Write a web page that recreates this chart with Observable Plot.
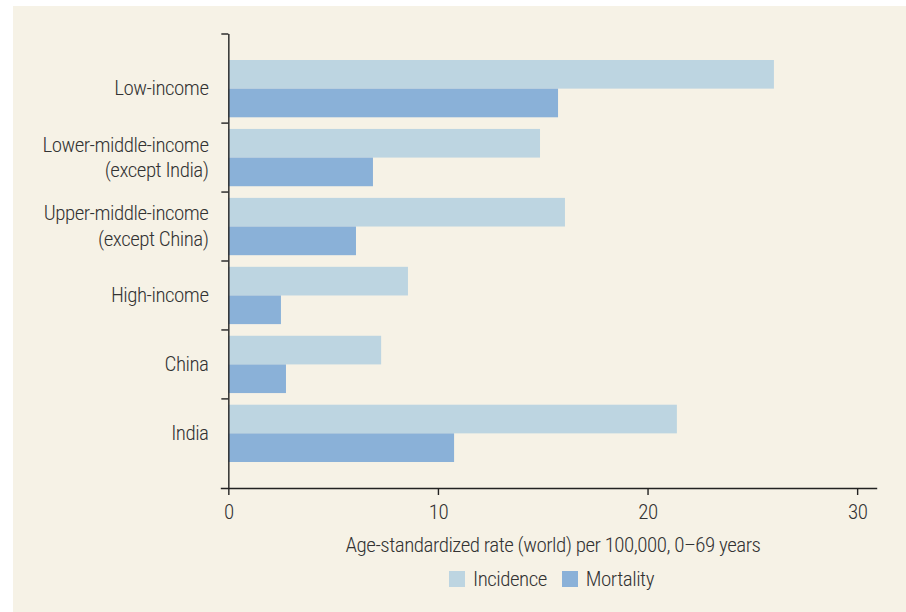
<!DOCTYPE html>
<html>
<head>
<meta charset="utf-8">
<script src="https://cdn.jsdelivr.net/npm/d3@7"></script>
<script src="https://cdn.jsdelivr.net/npm/@observablehq/plot@0.6"></script>
<style>
  html, body { margin: 0; padding: 0; background: #ffffff; }
  body { width: 906px; height: 612px; overflow: hidden; }
  #panel {
    position: absolute; left: 13px; top: 6px; width: 893px; height: 606px;
    background: #f6f2e6;
    font-family: 'Liberation Sans Narrow', 'Roboto Condensed', 'DejaVu Sans Condensed', 'Arial Narrow', sans-serif;
    font-weight: 300;
    letter-spacing: -0.5px;
    color: #333333;
  }
  #chart svg { display: block; }
  #chart svg text { letter-spacing: -0.5px; font-weight: 300; }
  #legend {
    position: absolute; left: 436px; top: 565px; display: flex; align-items: center;
    font-size: 21px; height: 16px; color: #333333;
  }
  #legend .sw { width: 16px; height: 16px; display: inline-block; margin-right: 8px; }
  #legend .item { display: flex; align-items: center; margin-right: 15px; white-space: nowrap; }
</style>
</head>
<body>
<div id="panel">
  <div id="chart"></div>
  <div id="legend"></div>
</div>
<script>
const categories = [
  "Low-income",
  "Lower-middle-income\n(except India)",
  "Upper-middle-income\n(except China)",
  "High-income",
  "China",
  "India"
];
const incidence = [26.03, 14.87, 16.06, 8.57, 7.29, 21.4];
const mortality = [15.73, 6.90, 6.09, 2.51, 2.75, 10.77];
const series = ["Incidence", "Mortality"];
const seriesColors = ["#bdd5e1", "#8ab1d8"];
const xTicks = [0, 10, 20, 30];
const xLabel = "Age-standardized rate (world) per 100,000, 0\u201369 years";

const rows = categories.map((c, i) => ({category: c, incidence: incidence[i], mortality: mortality[i]}));

const halfBand = 28.65;

function bandTicks(index, scales, values, dimensions) {
  const y = scales.y, x = scales.x;
  const bw = typeof y.bandwidth === "function" ? y.bandwidth() : y.bandwidth;
  const x0 = x(0);
  const ys = [dimensions.marginTop];
  for (let i = 1; i < categories.length; i++) {
    ys.push((y(categories[i - 1]) + bw + y(categories[i])) / 2);
  }
  const g = d3.create("svg:g").attr("stroke", "#222").attr("stroke-width", 1.4);
  for (const yy of ys) {
    g.append("line").attr("x1", x0 - 7).attr("x2", x0).attr("y1", yy).attr("y2", yy);
  }
  return g.node();
}

const chart = Plot.plot({
  width: 893,
  height: 556,
  marginLeft: 208,
  marginRight: 30,
  marginTop: 28,
  marginBottom: 74,
  style: {
    background: "transparent",
    fontSize: "21px",
    fontFamily: "'Liberation Sans Narrow', 'Roboto Condensed', 'DejaVu Sans Condensed', 'Arial Narrow', sans-serif",
    color: "#333333"
  },
  x: { domain: [-0.35, 30.9] },
  y: { domain: categories, paddingInner: 0.169, paddingOuter: 0.377, round: false },
  marks: [
    Plot.barX(rows, { x1: 0, x2: "incidence", y: "category", fill: seriesColors[0], insetBottom: halfBand }),
    Plot.barX(rows, { x1: 0, x2: "mortality", y: "category", fill: seriesColors[1], insetTop: halfBand }),
    Plot.axisY({ tickSize: 0, tickPadding: 13, dy: -2, lineHeight: 1.2, label: null, fill: "#333333", fontSize: 21 }),
    Plot.axisX({ ticks: xTicks, tickSize: 7, tickPadding: 9, label: null, stroke: "#222", strokeWidth: 1.4, fill: "#333333", fontSize: 21, tickFormat: d3.format("d") }),
    Plot.frame({ anchor: "bottom", stroke: "#222", strokeWidth: 1.4 }),
    Plot.ruleX([0], { stroke: "#222", strokeWidth: 1.4 }),
    bandTicks,
    Plot.text([xLabel], { text: d => d, frameAnchor: "bottom", dy: 63, dx: 4, lineAnchor: "bottom", fill: "#333333", fontSize: 21 })
  ]
});
document.getElementById("chart").appendChild(chart);

const legend = document.getElementById("legend");
series.forEach((s, i) => {
  const item = document.createElement("div");
  item.className = "item";
  const sw = document.createElement("span");
  sw.className = "sw";
  sw.style.background = seriesColors[i];
  const t = document.createElement("span");
  t.textContent = s;
  item.appendChild(sw);
  item.appendChild(t);
  legend.appendChild(item);
});
</script>
</body>
</html>
